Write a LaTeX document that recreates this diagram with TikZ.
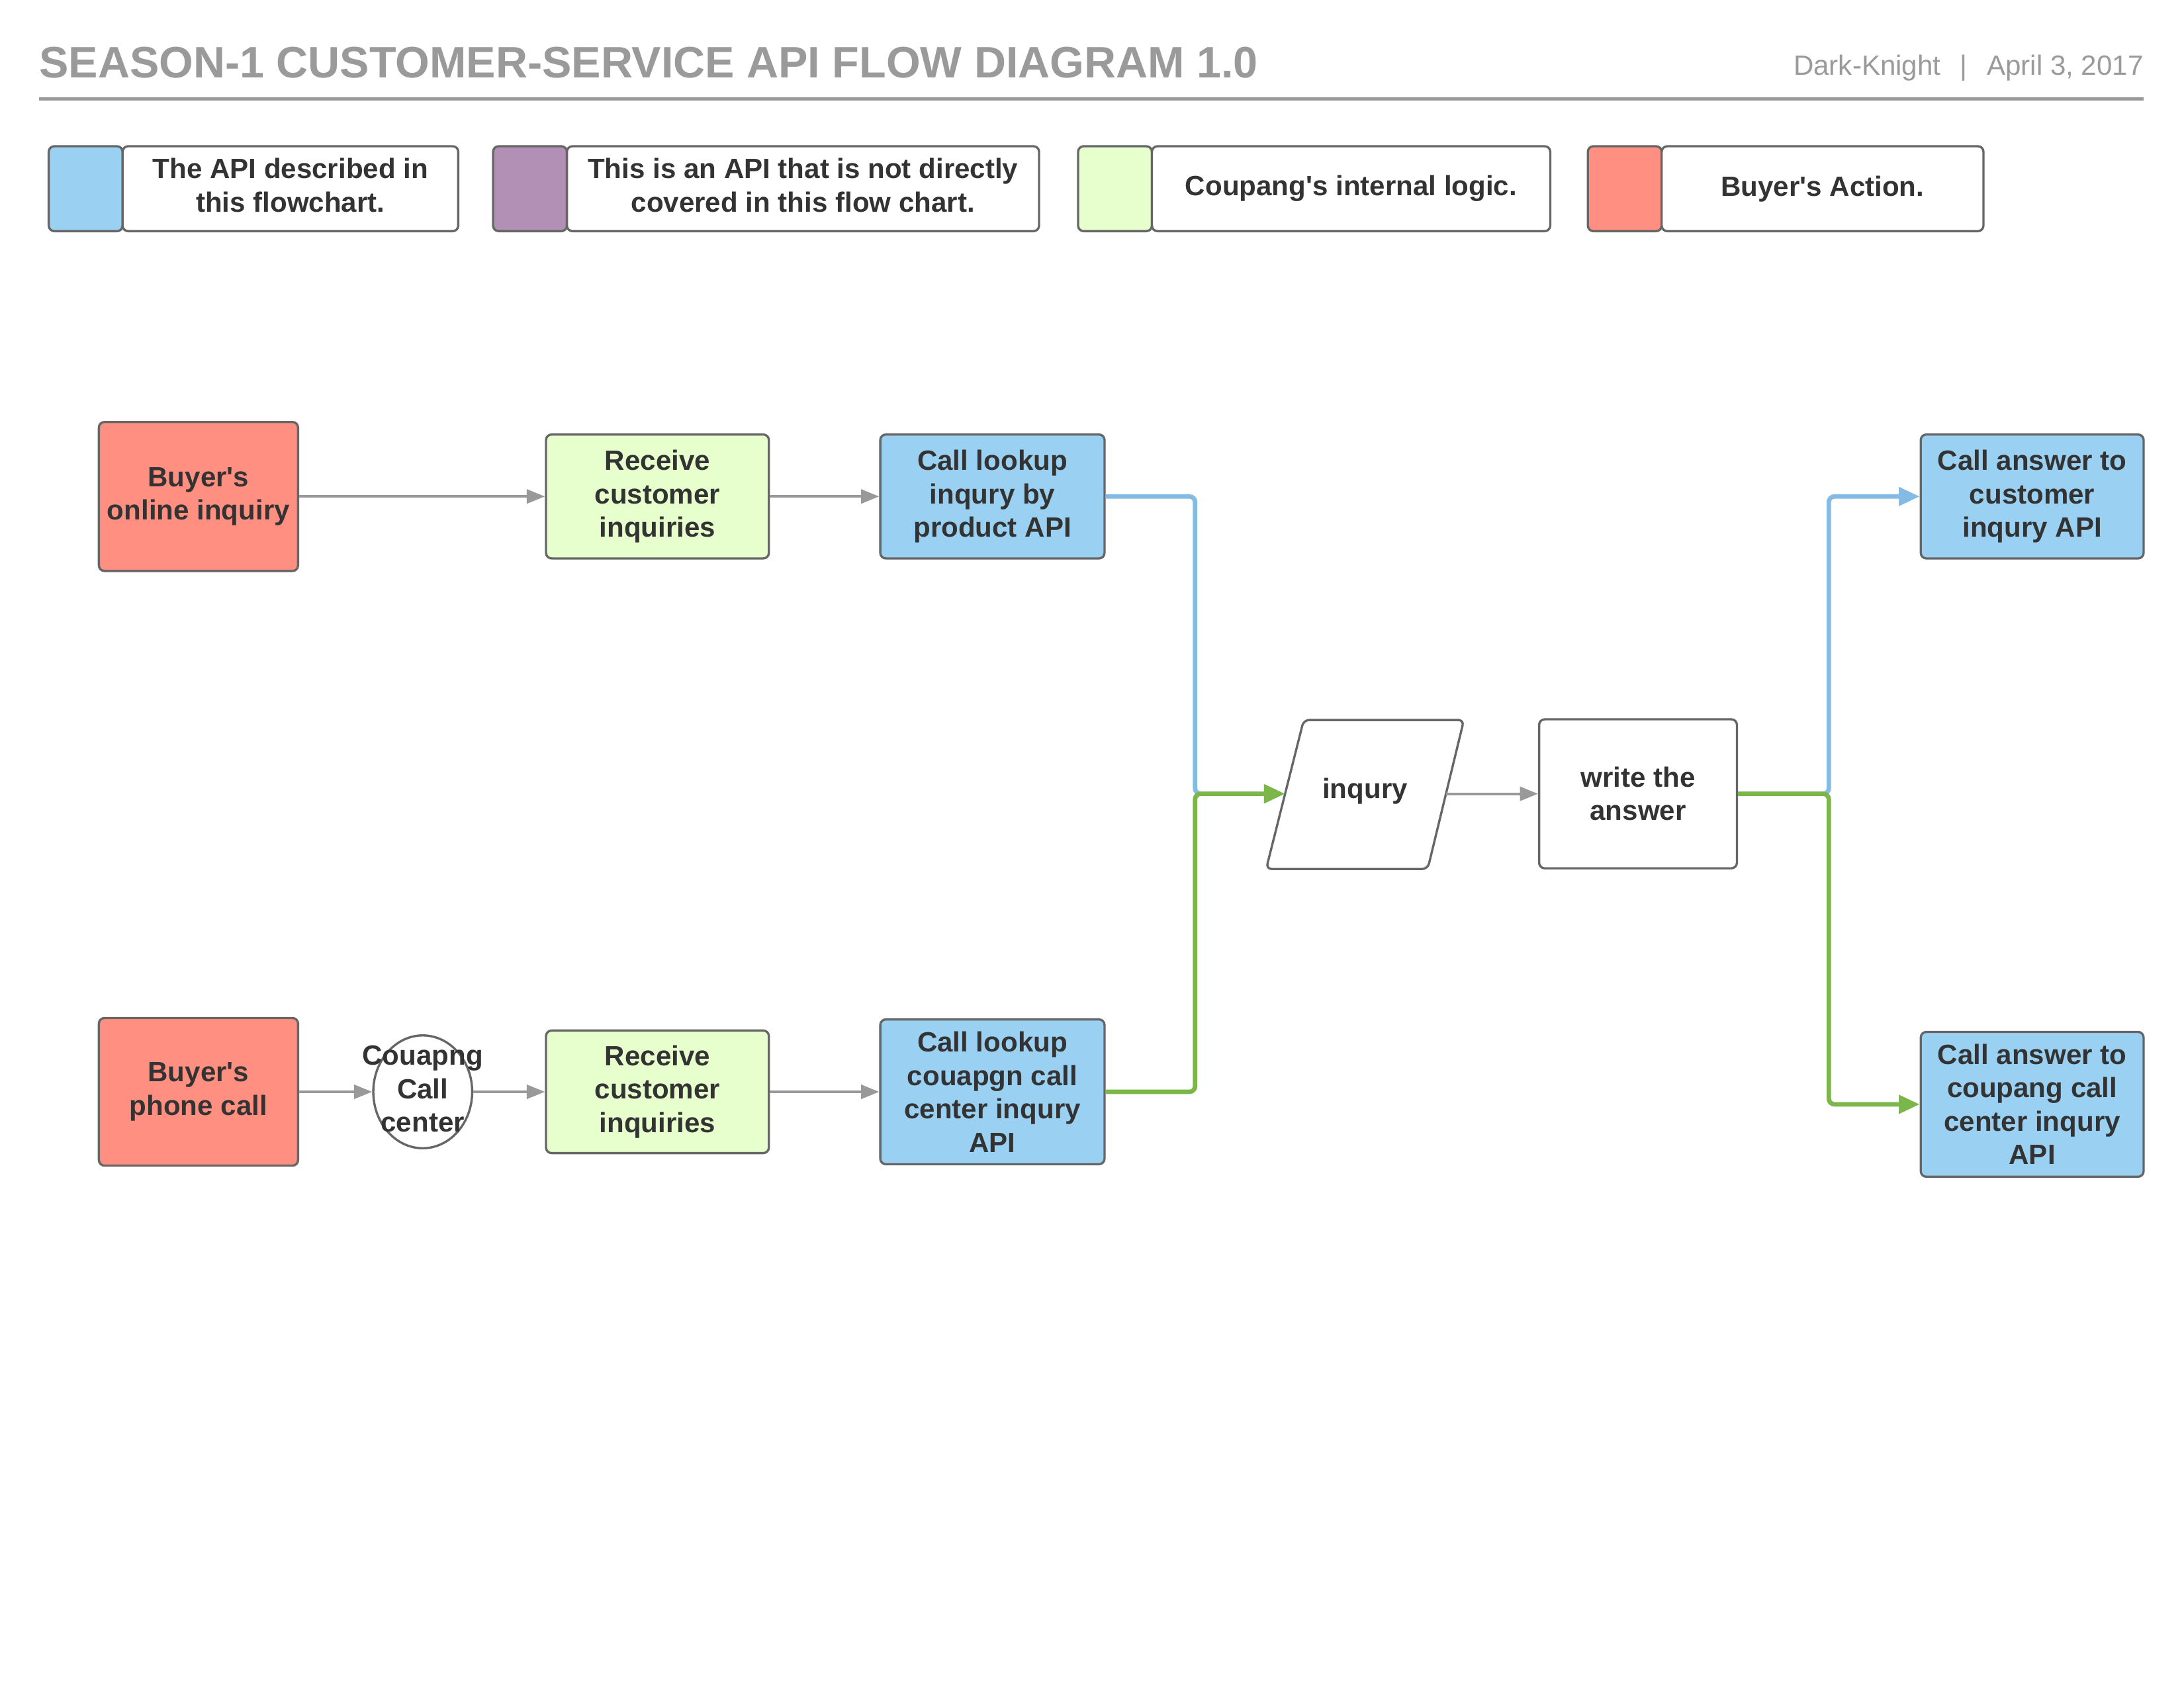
\documentclass[tikz,border=0pt]{standalone}
\usepackage{fontspec}
\setmainfont{Liberation Sans}[Ligatures=TeXOff]
\usetikzlibrary{arrows.meta,shapes.geometric}
\definecolor{bordc}{HTML}{666666}
\definecolor{textc}{HTML}{333333}
\definecolor{titlec}{HTML}{9A9A9A}
\definecolor{fblue}{HTML}{9AD1F3}
\definecolor{fpurple}{HTML}{B290B5}
\definecolor{fgreen}{HTML}{E6FFCC}
\definecolor{fred}{HTML}{FF8F80}
\definecolor{lblue}{HTML}{83BBE5}
\definecolor{lgreen}{HTML}{7AB648}
\definecolor{lgray}{HTML}{999999}
\tikzset{
  box/.style={draw=bordc, line width=1.6pt, rounded corners=4pt, text=textc, align=center,
    inner sep=0pt, font=\bfseries\fontsize{20}{24}\selectfont},
  bluebox/.style={box, fill=fblue},
  greenbox/.style={box, fill=fgreen},
  redbox/.style={box, fill=fred},
  whitebox/.style={box, fill=white},
  swatch/.style={draw=bordc, line width=1.6pt, rounded corners=4pt, minimum width=53pt, minimum height=61pt, inner sep=0pt},
  graylink/.style={draw=lgray, line width=1.8pt, -{Triangle[length=13pt,width=10pt]}},
  bluelink/.style={draw=lblue, line width=3.2pt, rounded corners=4pt, -{Triangle[length=15pt,width=13pt]}},
  greenlink/.style={draw=lgreen, line width=3.2pt, rounded corners=4pt, -{Triangle[length=15pt,width=13pt]}},
}
\begin{document}
\begin{tikzpicture}[x=1pt,y=-1pt]
\useasboundingbox (0,0) rectangle (1568,1212);
\fill[white] (0,0) rectangle (1568,1212);
% header
\node[anchor=base west, inner sep=0pt, text=titlec, font=\bfseries\fontsize{31.6}{36}\selectfont] (title) at (28,56) {SEASON-1 CUSTOMER-SERVICE API FLOW DIAGRAM 1.0};
\node[anchor=base east, inner sep=0pt, text=titlec, font=\fontsize{20}{24}\selectfont] (author) at (1539,54) {Dark-Knight\hspace{14pt}|\hspace{14pt}April 3, 2017};
\coordinate (hl) at (28,71);
\coordinate (hr) at (1539,71);
\draw[titlec, line width=2pt] (hl) -- (hr);
% legend
\node[swatch, fill=fblue] (sw1) at (61.5,135.5) {};
\node[whitebox, minimum width=241pt, minimum height=61pt] (lg1) at (208.5,135.5) {};
\node[box, draw=none] (lt1) at (208.5,133) {The API described in\\this flowchart.};
\node[swatch, fill=fpurple] (sw2) at (380.5,135.5) {};
\node[whitebox, minimum width=339pt, minimum height=61pt] (lg2) at (576.5,135.5) {};
\node[box, draw=none] (lt2) at (576.5,133) {This is an API that is not directly\\covered in this flow chart.};
\node[swatch, fill=fgreen] (sw3) at (800.5,135.5) {};
\node[whitebox, minimum width=286pt, minimum height=61pt] (lg3) at (970,135.5) {Coupang's internal logic.};
\node[swatch, fill=fred] (sw4) at (1166.5,135.5) {};
\node[whitebox, minimum width=231pt, minimum height=61pt] (lg4) at (1308.5,135.5) {Buyer's Action.};
% top row
\node[redbox, minimum width=143pt, minimum height=107pt] (online) at (142.5,356.5) {Buyer's\\online inquiry};
\node[greenbox, minimum width=160pt, minimum height=89pt] (recv1) at (472,356.5) {Receive\\customer\\inquiries};
\node[bluebox, minimum width=161pt, minimum height=89pt] (look1) at (712.5,356.5) {Call lookup\\inqury by\\product API};
\node[bluebox, minimum width=160pt, minimum height=89pt] (cans1) at (1459,356.5) {Call answer to\\customer\\inqury API};
% middle
\draw[draw=bordc, line width=1.6pt, fill=white, rounded corners=4pt] (936,517) -- (1051,517) -- (1025,624) -- (909,624) -- cycle;
\node[box, draw=none, minimum width=100pt, minimum height=60pt] (inq) at (980,568) {inqury};
\coordinate (inqL) at (922.5,570);
\coordinate (inqR) at (1038,570);
\node[whitebox, minimum width=142pt, minimum height=107pt] (ans) at (1176,570) {write the\\answer};
% bottom row
\node[redbox, minimum width=143pt, minimum height=106pt] (phone) at (142.5,784) {Buyer's\\phone call};
\node[ellipse, draw=bordc, line width=1.6pt, fill=white, minimum width=71pt, minimum height=81pt, inner sep=0pt] (ccshape) at (303.5,784) {};
\node[box, draw=none, fill=none] (cc) at (303.5,782) {Couapng\\Call\\center};
\node[greenbox, minimum width=160pt, minimum height=88pt] (recv2) at (472,784) {Receive\\customer\\inquiries};
\node[bluebox, minimum width=161pt, minimum height=104pt] (look2) at (712.5,784) {Call lookup\\couapgn call\\center inqury\\API};
\node[bluebox, minimum width=160pt, minimum height=104pt] (cans2) at (1459,793) {Call answer to\\coupang call\\center inqury\\API};
% junctions
\coordinate (j1) at (858,570);
\coordinate (j2) at (1313,570);
% connectors
\draw[graylink] (online.east) -- (recv1.west);
\draw[graylink] (recv1.east) -- (look1.west);
\draw[graylink] (phone.east) -- (ccshape.west);
\draw[graylink] (ccshape.east) -- (recv2.west);
\draw[graylink] (recv2.east) -- (look2.west);
\draw[graylink] (inqR) -- (ans.west);
\draw[bluelink] (look1.east) -| (j1) -- (inqL);
\draw[greenlink] (look2.east) -| (j1) -- (inqL);
\draw[bluelink] (ans.east) -- (j2) |- (cans1.west);
\draw[greenlink] (ans.east) -- (j2) |- (cans2.west);
\end{tikzpicture}
\end{document}
